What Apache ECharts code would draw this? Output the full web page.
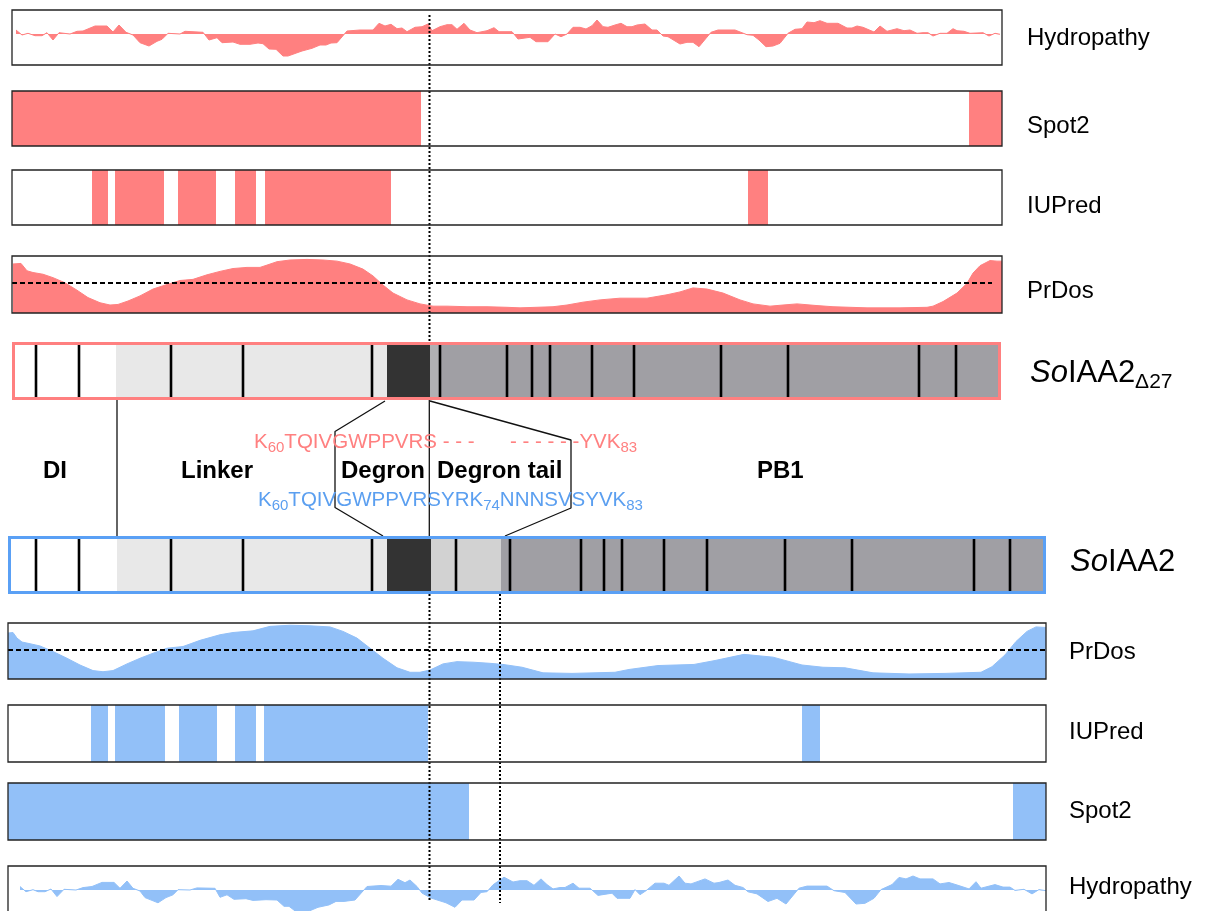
<!DOCTYPE html>
<html><head><meta charset="utf-8">
<script src="https://cdn.jsdelivr.net/npm/echarts@6/dist/echarts.min.js"></script>
<style>html,body{margin:0;padding:0;background:#fff}#c{width:1208px;height:911px}</style>
</head><body><div id="c"></div>
<script>
// ---------------- data (positions along each protein track) ----------------
const hydroRed = [[4,0.4],[10,-0.1],[16,0.07],[23,-0.17],[30,-0.17],[35,0.13],[41,-0.6],[47,0.13],[58,0],[65,0.27],[71,0.3],[83,0.8],[95,0.8],[101,0.2],[107,0.9],[114,0.17],[121,-0.1],[128,-0.87],[137,-1.2],[145,-0.73],[150,-0.53],[156,0.07],[168,0],[173,0.27],[191,0.17],[197,-0.6],[205,-0.37],[210,-0.87],[221,-0.8],[228,-1.03],[238,-1.03],[246,-0.9],[251,-0.97],[257,-1.5],[264,-1.53],[271,-2.2],[276,-2.2],[290,-1.7],[300,-1.43],[308,-1.1],[314,-1.1],[319,-0.9],[325,-0.87],[335,0.3],[348,0.4],[361,0.4],[367,1.07],[373,0.8],[379,0.97],[385,0.53],[390,0.6],[395,0.23],[403,0.67],[410,0.73],[416,1.0],[420,0.33],[428,0.73],[435,0.93],[440,0.93],[445,0.47],[452,1.07],[458,0.4],[465,0.13],[475,0.33],[482,0.63],[487,0.23],[500,0.23],[506,-0.5],[518,-0.33],[524,-0.77],[536,-0.77],[543,0],[549,-0.27],[555,0],[561,0.67],[568,0.67],[574,0.5],[580,0.83],[585,1.4],[591,0.73],[596,0.67],[603,0.9],[609,1.07],[615,0.73],[620,0.73],[625,0.9],[633,1.0],[640,0.4],[645,0.4],[651,-0.2],[656,-0.27],[668,-1.0],[675,-0.83],[681,-0.83],[687,-1.27],[699,0.17],[706,0.4],[723,0.4],[735,-0.07],[741,-0.13],[747,-0.6],[754,-1.27],[761,-1.2],[768,-0.93],[776,0.07],[783,0.47],[790,0.53],[795,1.2],[802,1.13],[808,1.33],[815,1.07],[826,1.07],[835,0.6],[840,0.6],[845,0.8],[851,0.67],[862,0.2],[868,0.8],[875,0.27],[885,0.53],[892,0.33],[898,0.4],[905,0.07],[911,0.13],[916,0.13],[921,-0.2],[928,0.07],[935,0.07],[941,0.53],[945,0.33],[952,0.27],[958,0.07],[971,0.13],[977,-0.2],[983,0.07],[988,-0.03]];
const hydroBlue = [[12,0.35],[18,-0.17],[25,0.03],[30,-0.17],[37,-0.17],[43,0.1],[49,-0.66],[56,0.07],[68,0],[75,0.24],[84,0.35],[94,0.76],[106,0.76],[112,0.17],[119,0.9],[125,0.17],[132,-0.1],[137,-0.76],[150,-1.28],[158,-0.76],[165,-0.48],[170,0.03],[182,0],[189,0.21],[207,0.17],[212,-0.73],[219,-0.48],[226,-0.93],[238,-0.87],[245,-1.04],[258,-0.97],[269,-1.0],[276,-1.63],[281,-1.63],[290,-2.32],[296,-2.32],[310,-1.73],[321,-1.49],[328,-1.14],[336,-1.14],[347,-1.0],[359,0.35],[373,0.45],[383,0.38],[390,1.07],[397,0.73],[402,1.0],[409,0.35],[414,-0.31],[423,-0.8],[438,-1.28],[447,-1.73],[454,-1.0],[466,-1.0],[473,-0.24],[479,-0.17],[485,0.52],[496,1.28],[505,0.8],[512,0.93],[519,0.93],[526,0.47],[533,1.11],[539,0.54],[545,0.11],[552,0.25],[557,0.25],[565,0.68],[571,0.18],[582,0.18],[590,-0.54],[604,-0.32],[609,-0.83],[622,-0.83],[627,0.04],[632,-0.47],[638,-0.07],[647,0.68],[656,0.68],[661,0.47],[671,1.4],[677,0.68],[683,0.61],[697,1.11],[706,0.68],[711,0.75],[720,1.0],[727,0.47],[735,0.25],[740,-0.18],[749,-0.39],[760,-1.15],[769,-0.83],[778,-1.4],[791,0.18],[799,0.39],[819,0.39],[826,-0.07],[837,-0.25],[848,-1.4],[857,-1.33],[866,-0.83],[873,0.04],[884,0.54],[891,1.26],[898,1.11],[905,1.4],[912,1.11],[925,1.11],[932,0.61],[941,0.75],[950,0.47],[961,0.11],[968,0.83],[973,0.18],[987,0.54],[995,0.29],[1002,0.29],[1007,-0.04],[1016,0.07],[1024,-0.39],[1031,0.04],[1038,-0.07]];
const prdosRed = [[1,0.86],[9,0.87],[15,0.74],[21,0.71],[31,0.68],[41,0.62],[53,0.53],[65,0.40],[76,0.27],[88,0.18],[98,0.14],[106,0.15],[116,0.21],[128,0.30],[141,0.42],[155,0.50],[168,0.57],[181,0.59],[195,0.67],[208,0.73],[221,0.78],[235,0.80],[248,0.80],[255,0.84],[265,0.90],[278,0.93],[295,0.94],[311,0.93],[325,0.91],[338,0.86],[351,0.77],[361,0.65],[371,0.49],[381,0.35],[395,0.23],[408,0.16],[421,0.12],[435,0.12],[455,0.11],[475,0.11],[495,0.10],[508,0.09],[541,0.11],[555,0.14],[571,0.19],[588,0.23],[608,0.26],[635,0.26],[655,0.32],[668,0.37],[681,0.44],[695,0.42],[711,0.35],[728,0.23],[741,0.16],[758,0.12],[771,0.14],[785,0.16],[805,0.13],[821,0.11],[855,0.09],[888,0.09],[915,0.10],[921,0.12],[931,0.20],[945,0.35],[955,0.52],[961,0.70],[968,0.83],[978,0.92],[985,0.91],[990,0.91]];
const prdosBlue = [[0,0.82],[5,0.83],[9,0.73],[14,0.66],[22,0.63],[32,0.59],[45,0.49],[59,0.37],[72,0.25],[85,0.15],[95,0.13],[105,0.15],[119,0.27],[132,0.37],[145,0.46],[159,0.55],[175,0.58],[192,0.69],[212,0.79],[225,0.83],[245,0.86],[262,0.94],[282,0.96],[302,0.95],[322,0.93],[335,0.85],[349,0.73],[362,0.55],[375,0.37],[389,0.20],[402,0.12],[412,0.12],[422,0.16],[435,0.27],[449,0.31],[465,0.30],[482,0.28],[495,0.26],[514,0.21],[535,0.11],[564,0.10],[607,0.12],[621,0.17],[650,0.24],[686,0.26],[707,0.33],[736,0.44],[765,0.39],[794,0.25],[815,0.21],[837,0.20],[865,0.11],[901,0.09],[937,0.10],[973,0.12],[984,0.22],[997,0.43],[1008,0.67],[1019,0.85],[1028,0.93],[1038,0.92]];
const prdosThreshold = 0.53;
const iupredRed = [[80,96],[103,152],[166,204],[223,244],[253,379],[736,756]];
const spot2Red = [[0,409],[957,990]];
const iupredBlue = [[83,100],[107,157],[171,209],[227,248],[256,420],[794,812]];
const spot2Blue = [[0,461],[1005,1038]];
// domain segments: [start, end, kind]  kind: 0 DI-white,1 linker,2 degron,3 tail,4 PB1/rest,5 tail remnant
const domainRed = [[0,104,0],[104,375,1],[375,418,2],[418,427,5],[427,987,4]];
const domainBlue = [[0,109,0],[109,379,1],[379,423,2],[423,493,3],[493,1036,4]];
const linesRed = [24,67,159,231,360,428,495,520,538,580,622,709,776,907,944];
const linesBlue = [28,71,163,235,364,448,502,573,596,614,656,699,777,844,966,1002];
// connectors / guide lines (overlay: x on SoIAA2 track, y in rows)
const connLinker = [[109,400],[109,536]];
const connDegron = [[421.3,400],[421.3,536]];
const connHexL = [[377,401],[327,431.5],[327,507.5],[375,536]];
const connHexR = [[422,401],[563,440],[563,508],[497,536]];
const guideDegronTop = [[421.5,15],[421.5,342]];
const guideDegronBottom = [[421.5,594],[421.5,900]];
const guideTail = [[492,594],[492,903]];
const trackLabels = ['Hydropathy','Spot2','IUPred','PrDos'];

// ---------------- styles ----------------
const RED = '#ff8080', BLUE = '#92c0f8', BLUE_LINE = '#5aa0f5', BLUE_TEXT = '#5b9ff0';
const FONT = 'Liberation Sans, Arial, Helvetica, sans-serif';
const DOMAIN_COLORS = ['#ffffff','#e8e8e8','#333333','#d2d2d2','#a09fa4','#b0b0b3'];

const chart = echarts.init(document.getElementById('c'), null, {renderer:'canvas'});
const panelBorder = {show:true, borderColor:'#222', borderWidth:1.3, backgroundColor:'transparent', z:10, outerBoundsMode:'none', containLabel:false};
const grids = [
  Object.assign({left:12, top:10, width:990, height:55}, panelBorder),
  Object.assign({left:12, top:91, width:990, height:55}, panelBorder),
  Object.assign({left:12, top:170, width:990, height:55}, panelBorder),
  Object.assign({left:12, top:256, width:990, height:57}, panelBorder),
  Object.assign({}, panelBorder, {left:13.5, top:343.5, width:986, height:55, borderColor:RED, borderWidth:3}),
  Object.assign({}, panelBorder, {left:9.5, top:537.5, width:1035, height:55, borderColor:BLUE_LINE, borderWidth:3}),
  Object.assign({left:8, top:623, width:1038, height:56}, panelBorder),
  Object.assign({left:8, top:705, width:1038, height:57}, panelBorder),
  Object.assign({left:8, top:783, width:1038, height:57}, panelBorder),
  Object.assign({left:8, top:866, width:1038, height:55}, panelBorder),
  {left:8, top:0, width:1038, height:911, show:false, outerBoundsMode:'none'}
];
const xr = [[0,990],[0,990],[0,990],[0,990],[1.5,987.5],[1.5,1036.5],[0,1038],[0,1038],[0,1038],[0,1038],[0,1038]];
const yr = [[-3.1,2.4],[0,1],[0,1],[0,1],[0,1],[0,1],[0,1],[0,1],[0,1],[-3.1,2.4],[0,911]];
const xAxis = xr.map((r,i)=>({type:'value', gridIndex:i, min:r[0], max:r[1], show:false}));
const yAxis = yr.map((r,i)=>({type:'value', gridIndex:i, min:r[0], max:r[1], show:false, inverse: i===10}));

function regionRender(color){
  return function(params, api){
    const a = api.coord([api.value(0), 1]);
    const b = api.coord([api.value(1), 0]);
    return {type:'rect', shape:{x:a[0], y:a[1], width:b[0]-a[0], height:b[1]-a[1]}, style:{fill:color}};
  };
}
function domainRender(params, api){
  const a = api.coord([api.value(0), 1]);
  const b = api.coord([api.value(1), 0]);
  return {type:'rect', shape:{x:a[0], y:a[1], width:b[0]-a[0], height:b[1]-a[1]}, style:{fill:DOMAIN_COLORS[api.value(2)]}};
}
function tickRender(params, api){
  const a = api.coord([api.value(0), 1]);
  const b = api.coord([api.value(0), 0]);
  return {type:'rect', shape:{x:a[0]-1.3, y:a[1], width:2.6, height:b[1]-a[1]}, style:{fill:'#000'}};
}
function area(idx, data, color, origin, mark){
  const s = {type:'line', xAxisIndex:idx, yAxisIndex:idx, data:data, symbol:'none', silent:true,
    lineStyle:{color:color, width:1}, areaStyle:{color:color, opacity:1, origin:origin}, z:2};
  if (mark) s.markLine = {symbol:'none', silent:true, label:{show:false}, animation:false,
    lineStyle:{color:'#000', type:[5,3], width:1.8}, data:[mark]};
  return s;
}
function regions(idx, data, color){
  return {type:'custom', xAxisIndex:idx, yAxisIndex:idx, data:data, renderItem:regionRender(color), silent:true, z:2};
}
function guide(data, dotted){
  return {type:'line', xAxisIndex:10, yAxisIndex:10, data:data, symbol:'none', silent:true, z:5,
    lineStyle: dotted ? {color:'#000', width:2, type:'dotted'} : {color:'#111', width:1.3}};
}
const series = [
  area(0, hydroRed, RED, 'auto'),
  regions(1, spot2Red, RED),
  regions(2, iupredRed, RED),
  area(3, prdosRed, RED, 'start', [{coord:[0,prdosThreshold]},{coord:[980,prdosThreshold]}]),
  {type:'custom', xAxisIndex:4, yAxisIndex:4, data:domainRed, renderItem:domainRender, silent:true, z:6},
  {type:'custom', xAxisIndex:4, yAxisIndex:4, data:linesRed.map(p=>[p,0]), renderItem:tickRender, silent:true, z:7},
  {type:'custom', xAxisIndex:5, yAxisIndex:5, data:domainBlue, renderItem:domainRender, silent:true, z:6},
  {type:'custom', xAxisIndex:5, yAxisIndex:5, data:linesBlue.map(p=>[p,0]), renderItem:tickRender, silent:true, z:7},
  area(6, prdosBlue, BLUE, 'start', [{coord:[0,prdosThreshold]},{coord:[1038,prdosThreshold]}]),
  regions(7, iupredBlue, BLUE),
  regions(8, spot2Blue, BLUE),
  area(9, hydroBlue, BLUE, 'auto'),
  guide(guideDegronTop, true), guide(guideDegronBottom, true), guide(guideTail, true),
  guide(connLinker, false), guide(connDegron, false), guide(connHexL, false), guide(connHexR, false)
];

function txt(x, y, text, size, extra){
  return {type:'text', x:x, y:y, silent:true, z:20, style:Object.assign({text:text, fontSize:size, fontFamily:FONT, fill:'#000',
    align:'left', verticalAlign:'middle', textAlign:'left', textVerticalAlign:'middle'}, extra||{})};
}
function seq(x, y, text, color){
  return txt(x, y, text, 20.5, {fill:color, rich:{
    n:{fontSize:20.5, fontFamily:FONT, fill:color},
    s:{fontSize:15, fontFamily:FONT, fill:color, padding:[12,0,0,0]}
  }});
}
const redLabelY = [38,126,206,291];
const blueLabelY = [887,811,732,652];
const graphic = [];
trackLabels.forEach((t,i)=>{ graphic.push(txt(1027, redLabelY[i], t, 24)); graphic.push(txt(1069, blueLabelY[i], t, 24)); });
graphic.push(txt(1030, 373, '{i|So}{n|IAA2}{s|Δ27}', 31, {rich:{
  i:{fontSize:31, fontStyle:'italic', fontFamily:FONT, fill:'#000'},
  n:{fontSize:31, fontFamily:FONT, fill:'#000'},
  s:{fontSize:21, fontFamily:FONT, fill:'#000', padding:[19,0,0,0]}}}));
graphic.push(txt(1070, 562, '{i|So}{n|IAA2}', 31, {rich:{
  i:{fontSize:31, fontStyle:'italic', fontFamily:FONT, fill:'#000'},
  n:{fontSize:31, fontFamily:FONT, fill:'#000'}}}));
[['DI',43],['Linker',181],['Degron',341],['Degron tail',437],['PB1',757]].forEach(d=>{
  graphic.push(txt(d[1], 471, d[0], 24, {fontWeight:'bold'}));
});
graphic.push(seq(254, 442, '{n|K}{s|60}{n|TQIVGWPPVRS - - -}', RED));
graphic.push(seq(510, 442, '{n|- - - - - -YVK}{s|83}', RED));
graphic.push(seq(258, 500, '{n|K}{s|60}{n|TQIVGWPPVRSYRK}{s|74}{n|NNNSVSYVK}{s|83}', BLUE_TEXT));

chart.setOption({animation:false, backgroundColor:'#ffffff', grid:grids, xAxis:xAxis, yAxis:yAxis, series:series, graphic:graphic});
</script></body></html>
